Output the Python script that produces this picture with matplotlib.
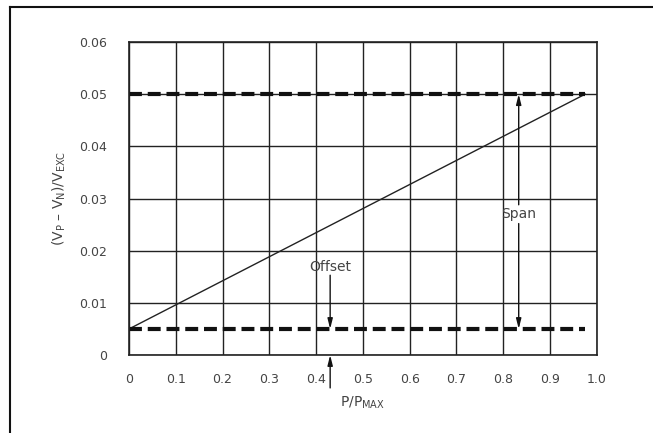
import matplotlib
matplotlib.use("Agg")
import matplotlib.pyplot as plt
from matplotlib.lines import Line2D

plt.rcParams['font.family'] = ['DejaVu Sans']
plt.rcParams['mathtext.fontset'] = 'dejavusans'

x_ticks = [0, 0.1, 0.2, 0.3, 0.4, 0.5, 0.6, 0.7, 0.8, 0.9, 1.0]
x_ticklabels = ["0", "0.1", "0.2", "0.3", "0.4", "0.5", "0.6", "0.7", "0.8", "0.9", "1.0"]
y_ticks = [0, 0.01, 0.02, 0.03, 0.04, 0.05, 0.06]
y_ticklabels = ["0", "0.01", "0.02", "0.03", "0.04", "0.05", "0.06"]

line_x = [0.0, 0.975]
line_y = [0.005, 0.050]
span_level = 0.050
offset_level = 0.005
offset_x = 0.43
span_x = 0.833
offset_text_y = 0.0168
span_text_y = 0.027

txt_color = '#444444'
fig = plt.figure(figsize=(6.53, 4.33), dpi=100)
ax = fig.add_axes([0.1975, 0.180, 0.7165, 0.723])
ax.set_xlim(0, 1.0)
ax.set_ylim(0, 0.06)
ax.set_xticks(x_ticks)
ax.set_xticklabels(x_ticklabels)
ax.set_yticks(y_ticks)
ax.set_yticklabels(y_ticklabels)
ax.tick_params(length=0, labelsize=9, colors=txt_color)
ax.tick_params(axis='x', pad=13)
ax.tick_params(axis='y', pad=16)
ax.grid(True, color='#222222', linewidth=1.0)
for s in ax.spines.values():
    s.set_color('#222222')
    s.set_linewidth(1.2)

ax.plot(line_x, line_y, color='#222222', linewidth=1.0)
dash = (0, (3.1, 1.4))
ax.plot(line_x, [span_level, span_level], color='#111111', linewidth=3.0,
        linestyle=dash, solid_capstyle='butt', dash_capstyle='butt')
ax.plot(line_x, [offset_level, offset_level], color='#111111', linewidth=3.0,
        linestyle=dash, solid_capstyle='butt', dash_capstyle='butt')

ax.text(offset_x, offset_text_y, "Offset", ha='center', va='center', fontsize=10, color=txt_color)
ax.text(span_x, span_text_y, "Span", ha='center', va='center', fontsize=10, color=txt_color)

arrow = dict(arrowstyle='-|>,head_length=0.6,head_width=0.15', color='#111111', lw=1.0,
             shrinkA=0, shrinkB=0)
ax.annotate("", xy=(offset_x, offset_level), xytext=(offset_x, offset_text_y - 0.0015),
            arrowprops=arrow)
ax.annotate("", xy=(offset_x, 0.0), xytext=(offset_x, -0.0063),
            arrowprops=arrow, annotation_clip=False)
ax.annotate("", xy=(span_x, span_level), xytext=(span_x, span_text_y + 0.0018),
            arrowprops=arrow)
ax.annotate("", xy=(span_x, offset_level), xytext=(span_x, span_text_y - 0.0018),
            arrowprops=arrow)

ax.set_xlabel("P/P$_{\\mathregular{MAX}}$", fontsize=10, color=txt_color, labelpad=6)
ax.set_ylabel("(V$_{\\mathregular{P}}$ – V$_{\\mathregular{N}}$)/V$_{\\mathregular{EXC}}$",
              fontsize=10, color=txt_color, labelpad=8)

# outer frame (left and top edges visible, others off-canvas)
fig.add_artist(Line2D([0.0153, 0.0153], [0.0, 0.984], transform=fig.transFigure,
                      color='#111111', linewidth=1.5))
fig.add_artist(Line2D([0.0153, 1.0], [0.984, 0.984], transform=fig.transFigure,
                      color='#111111', linewidth=1.5))

fig.savefig("out.png", dpi=100)
